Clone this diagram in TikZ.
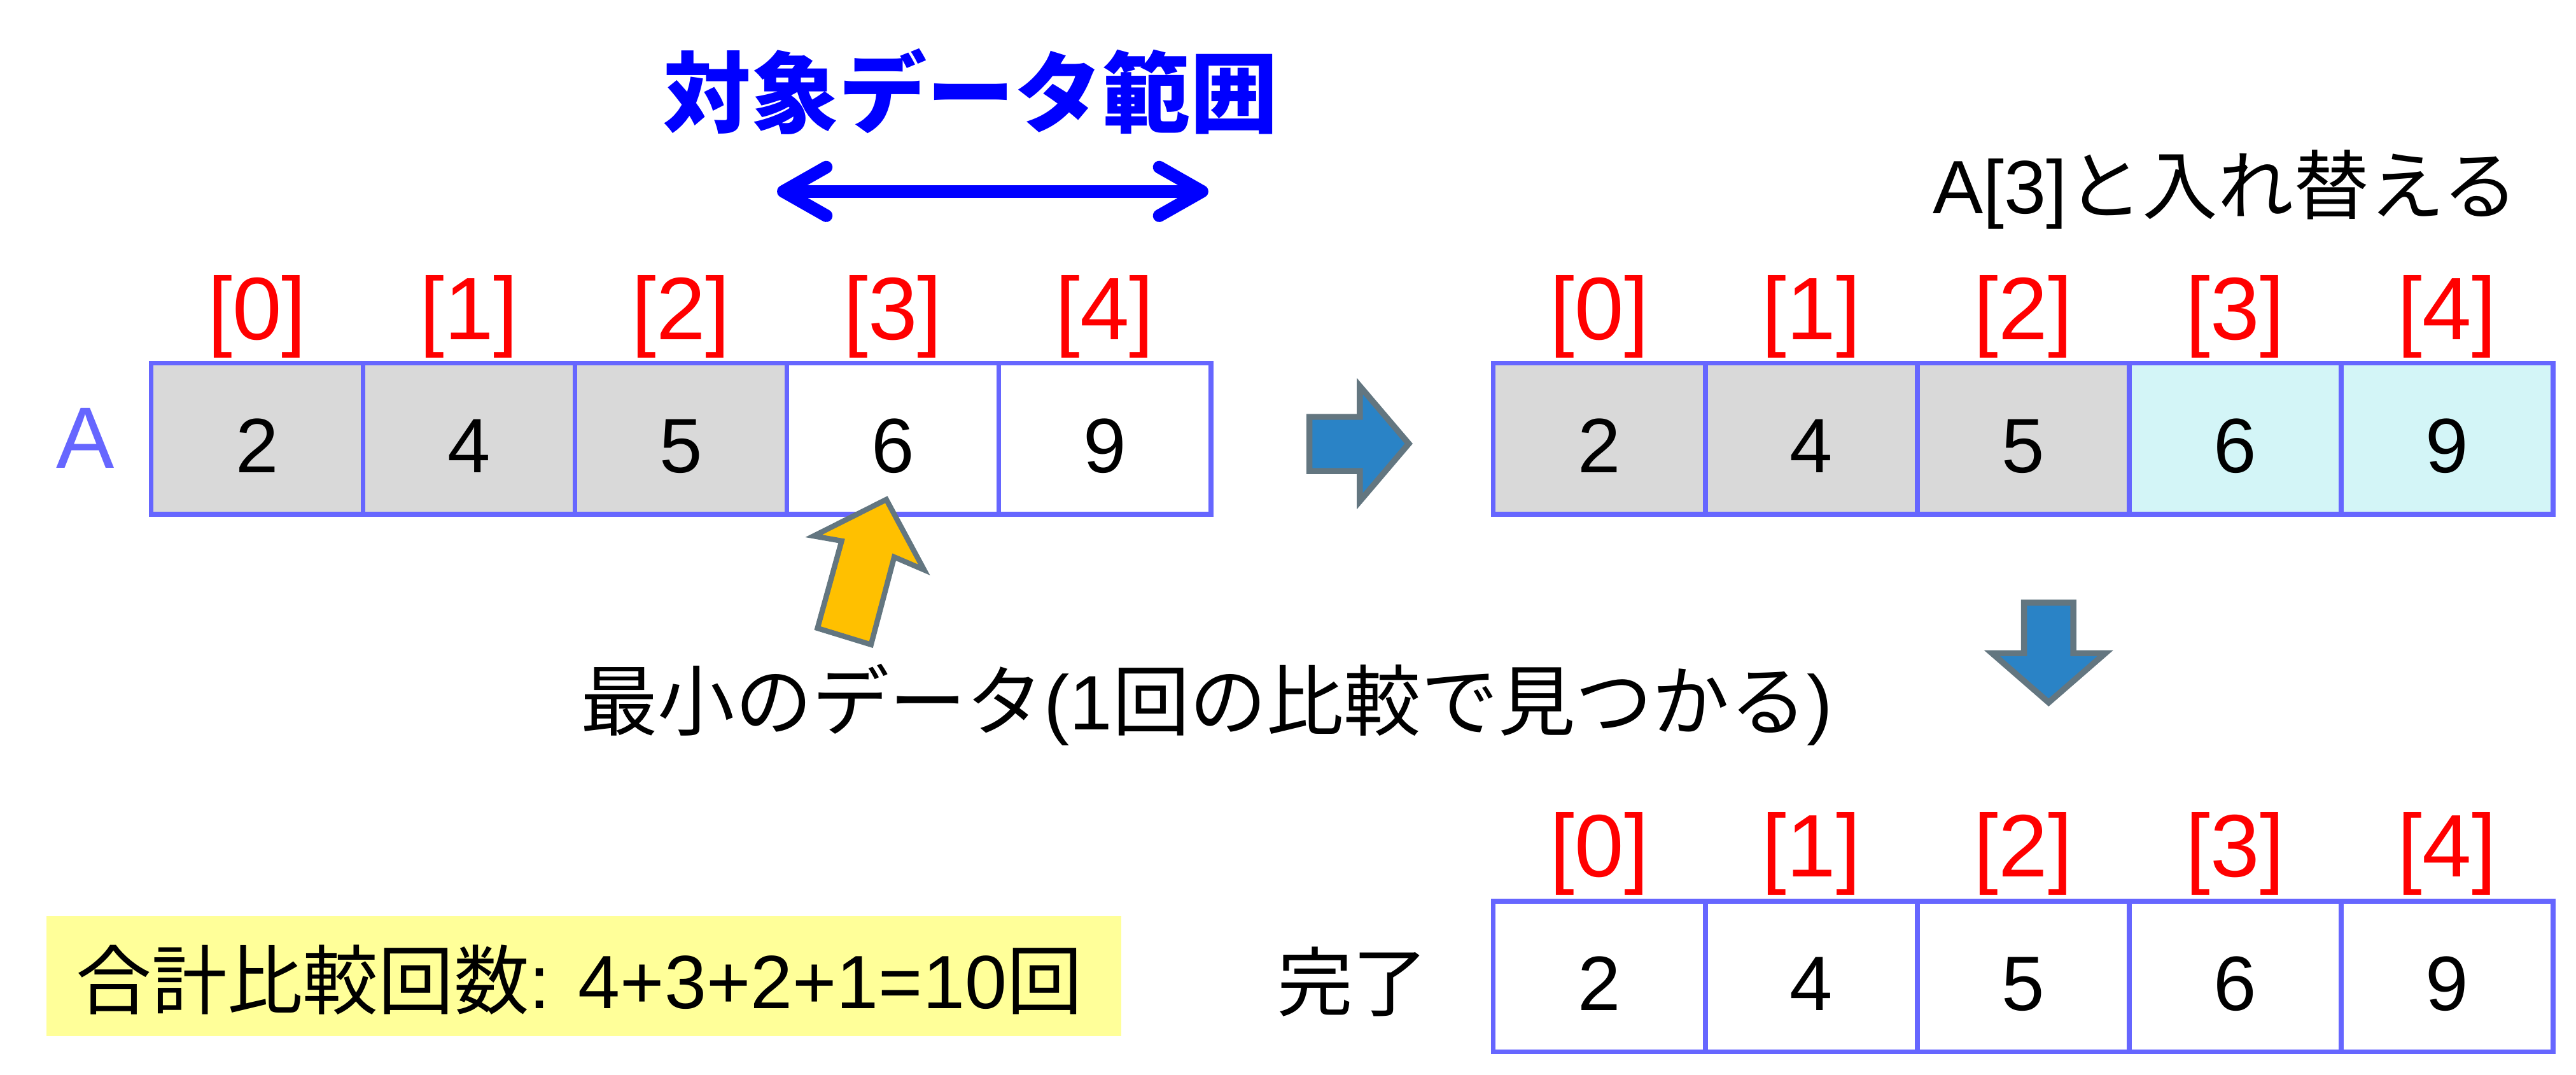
\documentclass[tikz,border=0pt]{standalone}
\usepackage{fontspec}
\setmainfont{Liberation Sans}
\newfontfamily\jp{Noto Sans CJK JP}
\usetikzlibrary{arrows.meta}
\definecolor{cellborder}{RGB}{102,102,255}
\definecolor{cgray}{RGB}{217,217,217}
\definecolor{ccyan}{RGB}{211,245,247}
\definecolor{cblue}{RGB}{42,131,198}
\definecolor{cslate}{RGB}{99,118,128}
\definecolor{corange}{RGB}{255,192,0}
\definecolor{cyellow}{RGB}{255,255,153}
\definecolor{ctitle}{RGB}{0,0,255}
\definecolor{cred}{RGB}{255,0,0}
\tikzset{
  cell/.style={draw=cellborder, line width=2.1pt, minimum width=91.76pt, minimum height=65.44pt, inner sep=0pt},
  num/.style={font=\fontsize{33.4pt}{40pt}\selectfont, inner sep=0pt, anchor=base},
  idx/.style={font=\fontsize{38.4pt}{46pt}\selectfont, text=cred, inner sep=0pt, anchor=base},
  jptext/.style={font=\jp\fontsize{33pt}{40pt}\selectfont, inner sep=0pt},
  blockarrow/.style={fill=cblue, draw=cslate, line width=2.6pt, line join=miter},
  rangearrow/.style={draw=ctitle, line width=5.5pt, {Straight Barb[length=18.5pt, width=21pt, round]}-{Straight Barb[length=18.5pt, width=21pt, round]}}
}
\begin{document}
\begin{tikzpicture}[x=0.025cm, y=-0.025cm]
\useasboundingbox (0,0) rectangle (1568,654);

% title and range arrow
\node[font=\jp\bfseries\fontsize{38pt}{46pt}\selectfont, text=ctitle, inner sep=0pt] (title) at (591,55.6) {対象データ範囲};
\coordinate (rl) at (473,116.5);
\coordinate (rr) at (735.5,116.5);
\draw[rangearrow] (rl) -- (rr);

% left array
\node[font=\fontsize{37.7pt}{45pt}\selectfont, text=cellborder, inner sep=0pt, anchor=base] (Alabel) at (52,285) {A};
\foreach \i/\v/\f in {0/2/cgray,1/4/cgray,2/5/cgray,3/6/white,4/9/white} {
  \node[cell, fill=\f] (L\i) at (156.5+129*\i,267) {};
  \node[num] (LN\i) at (156.5+129*\i,287.6) {\v};
  \node[idx] (LI\i) at (156.5+129*\i,206.8) {[\i]};
}

% right top array
\node[jptext, font=\jp\fontsize{32.7pt}{40pt}\selectfont, anchor=base east] (swap) at (1533,130) {\fontspec{Liberation Sans}A[3]\jp と入れ替える};
\foreach \i/\v/\f in {0/2/cgray,1/4/cgray,2/5/cgray,3/6/ccyan,4/9/ccyan} {
  \node[cell, fill=\f] (R\i) at (973.5+129*\i,267) {};
  \node[num] (RN\i) at (973.5+129*\i,287.6) {\v};
  \node[idx] (RI\i) at (973.5+129*\i,206.8) {[\i]};
}

% bottom array
\node[jptext, font=\jp\fontsize{32.7pt}{40pt}\selectfont] (done) at (823.5,597.5) {完了};
\foreach \i/\v in {0/2,1/4,2/5,3/6,4/9} {
  \node[cell, fill=white, minimum height=65.1pt] (B\i) at (973.5+129*\i,594.3) {};
  \node[num] (BN\i) at (973.5+129*\i,615) {\v};
  \node[idx] (BI\i) at (973.5+129*\i,533.4) {[\i]};
}

% right block arrow
\draw[blockarrow] (797,253.7) -- (827.7,253.7) -- (827.7,235) -- (857.5,270) -- (827.7,305) -- (827.7,286.7) -- (797,286.7) -- cycle;

% down block arrow
\draw[blockarrow] (1232,366.8) -- (1262,366.8) -- (1262,397.5) -- (1281.5,397.5) -- (1247,427.5) -- (1212.5,397.5) -- (1232,397.5) -- cycle;

% orange pointer arrow
\draw[fill=corange, draw=cslate, line width=2.3pt, line join=miter] (539.5,304) -- (562.5,346.8) -- (544.3,339) -- (530.2,392.3) -- (497.6,382.3) -- (512.3,329.2) -- (495.3,326.2) -- cycle;

% minimum caption
\node[jptext, font=\jp\fontsize{33.4pt}{40pt}\selectfont] (minlabel) at (734.5,429) {最小のデータ\fontspec{Liberation Sans}(1\jp 回の比較で見つかる\fontspec{Liberation Sans})};

% total box
\node[fill=cyellow, minimum width=465.2pt, minimum height=52.1pt, inner sep=0pt] (totalbox) at (355.25,594) {};
\node[jptext, font=\jp\fontsize{32.7pt}{40pt}\selectfont] (total) at (352.6,596.5) {合計比較回数\fontspec{Liberation Sans}: 4+3+2+1=10\jp 回};
\end{tikzpicture}
\end{document}
